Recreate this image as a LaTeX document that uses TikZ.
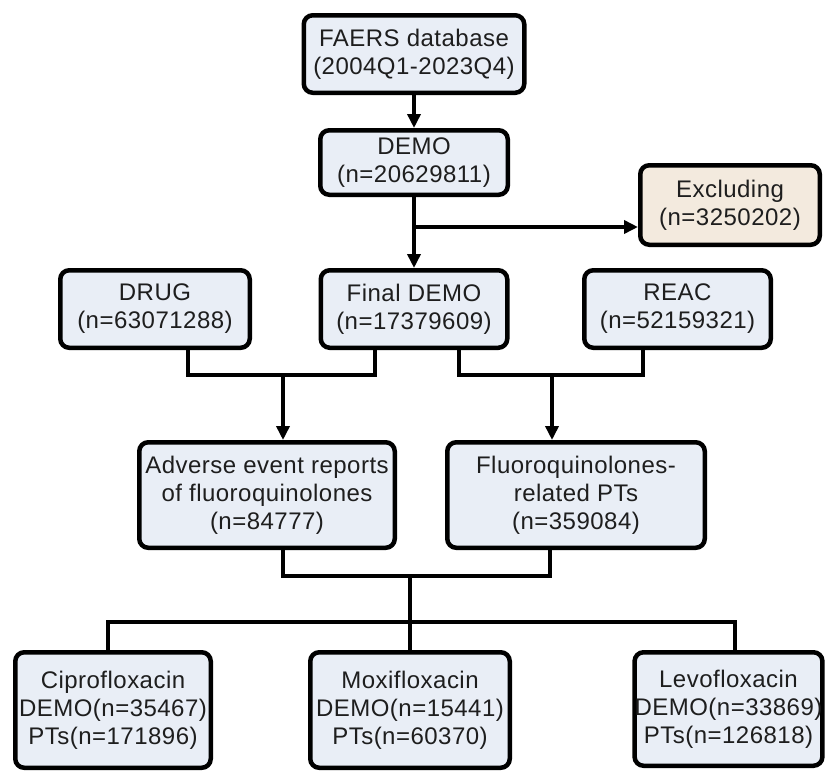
\documentclass[tikz,border=0pt]{standalone}
\usepackage{fontspec}
\setmainfont[LetterSpace=2]{Liberation Sans}
\usetikzlibrary{arrows.meta}
\definecolor{boxfill}{HTML}{E9EEF6}
\definecolor{exfill}{HTML}{F3EADE}
\definecolor{txt}{HTML}{1E1E1E}
\begin{document}
\begin{tikzpicture}[x=1pt,y=-1pt,
  box/.style={draw=black, line width=4.5pt, rounded corners=9pt, fill=boxfill,
    align=center, inner sep=0pt, text=txt, font=\fontsize{24}{28}\selectfont},
  conn/.style={line width=4pt, draw=black},
  arr/.style={conn, -{Triangle[length=14pt,width=13pt]}}]
\useasboundingbox (0,0) rectangle (826,772);

\node[box, minimum width=220.5pt, minimum height=77.5pt] (faers) at (414,54) {FAERS database\\(2004Q1-2023Q4)};
\node[box, minimum width=187.5pt, minimum height=64.5pt] (demo) at (414,162.5) {DEMO\\(n=20629811)};
\node[box, fill=exfill, minimum width=179.5pt, minimum height=79.5pt] (excl) at (730,205) {Excluding\\(n=3250202)};
\node[box, minimum width=189.5pt, minimum height=77.5pt] (drug) at (155,309) {DRUG\\(n=63071288)};
\node[box, minimum width=186.5pt, minimum height=77.5pt] (fd) at (414,309) {Final DEMO\\(n=17379609)};
\node[box, minimum width=186.5pt, minimum height=77.5pt] (reac) at (677.5,309) {REAC\\(n=52159321)};
\node[box, minimum width=255.5pt, minimum height=105.5pt] (adv) at (267,495) {Adverse event reports\\of fluoroquinolones\\(n=84777)};
\node[box, minimum width=257.5pt, minimum height=105.5pt] (flu) at (576,495) {Fluoroquinolones-\\related PTs\\(n=359084)};
\node[box, minimum width=195.5pt, minimum height=115.5pt] (cipro) at (113,710) {Ciprofloxacin\\DEMO(n=35467)\\PTs(n=171896)};
\node[box, minimum width=199.5pt, minimum height=115.5pt] (moxi) at (410,710) {Moxifloxacin\\DEMO(n=15441)\\PTs(n=60370)};
\node[box, minimum width=186.5pt, minimum height=113.5pt] (levo) at (728.5,709) {Levofloxacin\\DEMO(n=33869)\\PTs(n=126818)};

\coordinate (split) at (414,227);
\coordinate (j1) at (283,375);
\coordinate (j2) at (552,375);
\coordinate (j3) at (410,576);
\coordinate (j4) at (410,622);

\draw[arr] (faers.south) -- (demo.north);
\draw[arr] (demo.south) -- (fd.north);
\draw[arr] (split) -- (split -| excl.west);

\draw[conn] ([xshift=33pt]drug.south) |- (j1) -| ([xshift=-39pt]fd.south);
\draw[arr] (j1) -- (j1 |- adv.north);
\draw[conn] ([xshift=45pt]fd.south) |- (j2) -| ([xshift=-34.5pt]reac.south);
\draw[arr] (j2) -- (j2 |- flu.north);

\draw[conn] ([xshift=16pt]adv.south) |- (j3) -| ([xshift=-26pt]flu.south);
\draw[conn] (j3) -- (moxi.north);
\draw[conn] ([xshift=-5pt]cipro.north) |- (j4) -| ([xshift=6.5pt]levo.north);
\end{tikzpicture}
\end{document}
